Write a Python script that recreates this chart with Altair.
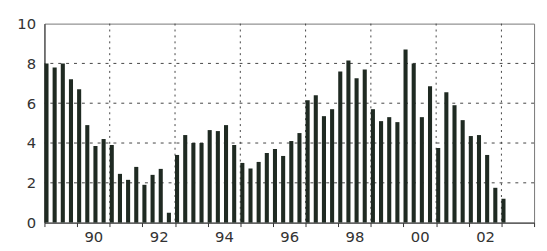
import altair as alt
import pandas as pd

# Quarterly values, 1989 Q1 .. 2003 Q1
values = [8.0, 7.8, 8.0, 7.2, 6.7, 4.9, 3.85, 4.2, 3.9, 2.45,
          2.15, 2.8, 1.9, 2.4, 2.7, 0.5, 3.4, 4.4, 4.0, 4.0,
          4.65, 4.6, 4.9, 3.9, 3.0, 2.72, 3.05, 3.5, 3.7, 3.35,
          4.1, 4.5, 6.15, 6.4, 5.35, 5.7, 7.6, 8.15, 7.25, 7.7,
          5.7, 5.1, 5.3, 5.05, 8.7, 8.0, 5.3, 6.85, 3.75, 6.55,
          5.9, 5.15, 4.35, 4.4, 3.4, 1.75, 1.2]
start_year = 1989
year_ticks = list(range(1989, 2005))
vgrid_years = [1991, 1993, 1995, 1997, 1999, 2001, 2003]
hgrid_values = [2, 4, 6, 8]
y_ticks = [0, 2, 4, 6, 8, 10]

df = pd.DataFrame({"q": list(range(len(values))), "value": values})
xdom = [1989, 2004]
ydom = [0, 10]
FONT = "DejaVu Sans"

xscale = alt.Scale(domain=xdom, nice=False, zero=False)
yscale = alt.Scale(domain=ydom, nice=False)

xaxis = alt.Axis(
    values=year_ticks, title=None, grid=False,
    labelExpr="(datum.value % 2 == 0 && datum.value <= 2002) ? substring(toString(datum.value), 2) : ''",
    labelOffset=16.5, labelOverlap=False, labelBound=False, labelFlush=False,
    tickSize=4, tickColor="#333", domainColor="#333",
    labelFont=FONT, labelFontSize=15, labelColor="#333", labelPadding=3)
yaxis = alt.Axis(
    values=y_ticks, title=None, grid=False, ticks=False,
    domainColor="#333", labelFont=FONT, labelFontSize=15,
    labelColor="#333", labelPadding=9)

bars = alt.Chart(df).transform_calculate(
    t=f"{start_year} + datum.q / 4",
    t2=f"{start_year} + datum.q / 4 + 0.125",
).mark_rect(color="#1f2a22").encode(
    x=alt.X("t:Q", scale=xscale, axis=xaxis),
    x2="t2:Q",
    y=alt.Y("value:Q", scale=yscale, axis=yaxis),
    y2=alt.datum(0),
)

vgrid = alt.Chart(pd.DataFrame({"yr": vgrid_years})).mark_rule(
    color="#444", strokeDash=[2, 4], strokeWidth=1
).encode(x=alt.X("yr:Q", scale=xscale, axis=xaxis))

hgrid = alt.Chart(pd.DataFrame({"v": hgrid_values})).mark_rule(
    color="#444", strokeDash=[3, 5], strokeWidth=1
).encode(y=alt.Y("v:Q", scale=yscale, axis=yaxis))

chart = alt.layer(hgrid, vgrid, bars).properties(
    width=497, height=202,
    autosize=alt.AutoSizeParams(type="none"),
    padding={"left": 37, "top": 14, "right": 5, "bottom": 30},
).configure_view(stroke="#777", strokeWidth=1)

chart.save("out.html", embed_options={"renderer": "svg", "actions": False})
